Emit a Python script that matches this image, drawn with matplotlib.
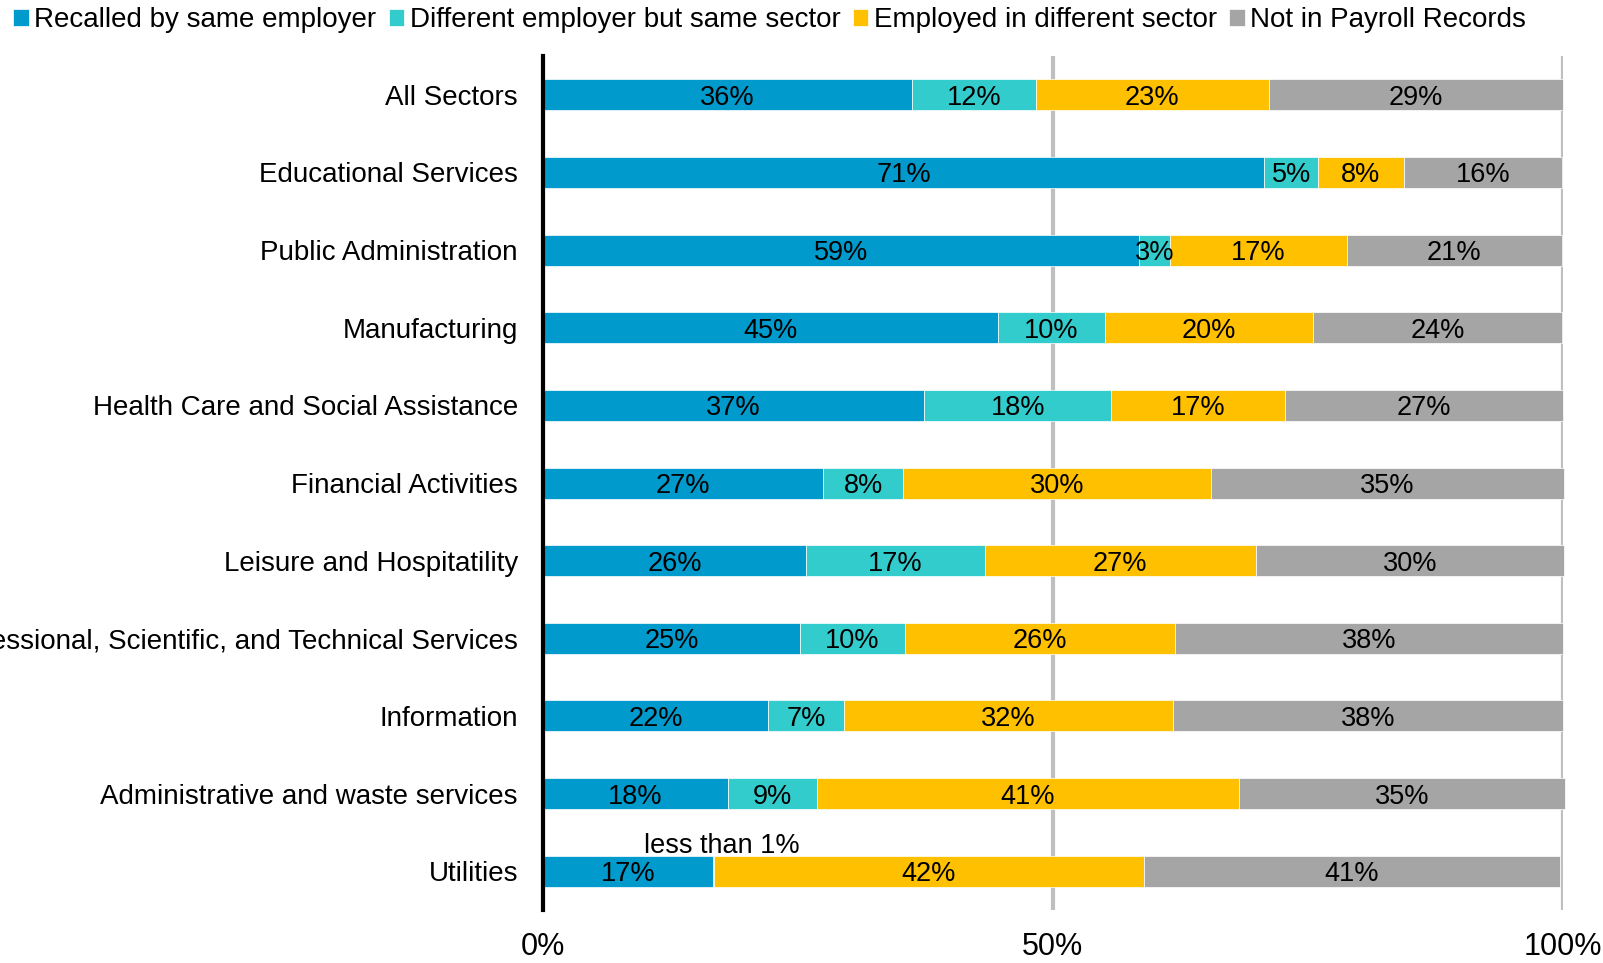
import matplotlib.pyplot as plt
import numpy as np

plt.rcParams['font.family'] = ['Liberation Sans', 'DejaVu Sans']

sectors = ["All Sectors", "Educational Services", "Public Administration",
           "Manufacturing", "Health Care and Social Assistance",
           "Financial Activities", "Leisure and Hospitatility",
           "Professional, Scientific, and Technical Services", "Information",
           "Administrative and waste services", "Utilities"]

series = ["Recalled by same employer", "Different employer but same sector",
          "Employed in different sector", "Not in Payroll Records"]
colors = ["#009ACD", "#33CCCC", "#FFC000", "#A5A5A5"]

# bar widths as drawn (percent)
recalled = [36.2, 70.7, 58.4, 44.6, 37.4, 27.5, 25.8, 25.2, 22.1, 18.1, 16.7]
same_sector = [12.1, 5.3, 3.1, 10.5, 18.3, 7.8, 17.5, 10.3, 7.4, 8.8, 0.1]
diff_sector = [22.9, 8.4, 17.3, 20.4, 17.1, 30.2, 26.6, 26.5, 32.3, 41.3, 42.1]
not_payroll = [28.8, 15.5, 21.1, 24.4, 27.2, 34.6, 30.2, 38.0, 38.2, 32.0, 40.8]

# labels printed on the bars
lab_recalled = ["36%", "71%", "59%", "45%", "37%", "27%", "26%", "25%", "22%", "18%", "17%"]
lab_same = ["12%", "5%", "3%", "10%", "18%", "8%", "17%", "10%", "7%", "9%", ""]
lab_diff = ["23%", "8%", "17%", "20%", "17%", "30%", "27%", "26%", "32%", "41%", "42%"]
lab_not = ["29%", "16%", "21%", "24%", "27%", "35%", "30%", "38%", "38%", "35%", "41%"]

data = [recalled, same_sector, diff_sector, not_payroll]
labels = [lab_recalled, lab_same, lab_diff, lab_not]

fig = plt.figure(figsize=(16.03, 9.63), dpi=100)
ax = fig.add_axes([0.3387, 0.055, 0.6363, 0.8868])

y = np.arange(len(sectors))
left = np.zeros(len(sectors))
for vals, labs, name, col in zip(data, labels, series, colors):
    vals = np.array(vals)
    ax.barh(y, vals, left=left, height=0.4, color=col, label=name,
            edgecolor="white", linewidth=0.5, zorder=3, clip_on=False)
    for i in range(len(sectors)):
        if labs[i]:
            ax.text(left[i] + vals[i] / 2, y[i], labs[i], ha="center",
                    va="center_baseline", fontsize=19.5, color="black", zorder=4)
    left = left + vals

ax.text(17.5, 10 - 0.36, "less than 1%", ha="center", va="center_baseline",
        fontsize=19.5)

ax.set_xlim(0, 100)
ax.set_ylim(10.5, -0.5)
ax.set_yticks(y)
ax.set_yticklabels(sectors, fontsize=20)
ax.set_xticks([0, 50, 100])
ax.set_xticklabels(["0%", "50%", "100%"], fontsize=22)
ax.tick_params(axis="both", length=0)
ax.tick_params(axis="y", pad=18)
ax.tick_params(axis="x", pad=16)
ax.xaxis.grid(True, color="#BFBFBF", linewidth=3, zorder=0)
for s in ["top", "right", "bottom"]:
    ax.spines[s].set_visible(False)
ax.spines["left"].set_linewidth(3)
ax.spines["left"].set_zorder(5)

fig.legend(loc="upper left", bbox_to_anchor=(-0.002, 1.01), ncol=4, frameon=False,
           fontsize=20, handlelength=0.55, handleheight=0.55, handletextpad=0.2,
           columnspacing=0.45, borderaxespad=0.2)

fig.savefig("out.png", dpi=100)
